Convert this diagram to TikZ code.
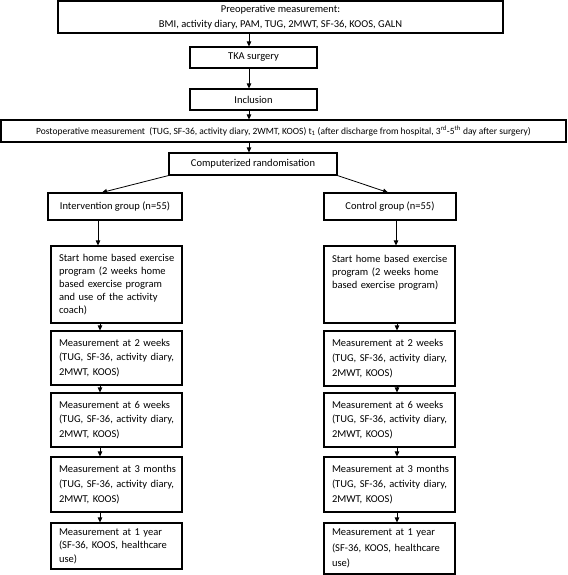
\documentclass[tikz,border=0pt]{standalone}
\usepackage{fontspec}
\setmainfont{Carlito}
\usetikzlibrary{arrows.meta}
\newcommand{\lineb}[1]{\mbox{#1}}
\hfuzz=20pt
\begin{document}
\begin{tikzpicture}[x=1pt,y=-1pt,
  box/.style={draw=black,line width=1.1pt,inner sep=0pt,font=\fontsize{10.5}{14.6}\selectfont,align=center},
  colbox/.style={draw=black,line width=1.1pt,inner xsep=8pt,inner ysep=0pt,font=\fontsize{10.5}{14.8}\selectfont,align=left,text width=115pt,minimum width=131pt},
  startbox/.style={colbox,font=\fontsize{10.5}{13}\selectfont},
  arr/.style={line width=0.8pt,-{Triangle[length=5pt,width=4.5pt]}}]
\useasboundingbox (0,0) rectangle (567,575);
\node[box,minimum width=445pt,minimum height=32pt] (pre) at (280.5,17) {Preoperative measurement:\\BMI, activity diary, PAM, TUG, 2MWT, SF-36, KOOS, GALN};
\node[box,minimum width=127pt,minimum height=21pt] (tka) at (253.5,57.5) {TKA surgery};
\node[box,minimum width=127pt,minimum height=21pt] (incl) at (253.5,99.5) {Inclusion};
\node[box,minimum width=565pt,minimum height=22pt,font=\fontsize{9.5}{12}\selectfont] (post) at (283.5,131) {Postoperative measurement\ \ (TUG, SF-36, activity diary, 2WMT, KOOS) t\textsubscript{1} (after discharge from hospital, 3\textsuperscript{rd}-5\textsuperscript{th} day after surgery)};
\node[box,minimum width=168pt,minimum height=22pt] (rand) at (253,164) {Computerized randomisation};
\node[box,minimum width=134pt,minimum height=27pt] (intv) at (115,206.5) {Intervention group (n=55)};
\node[box,minimum width=132pt,minimum height=27pt] (ctrl) at (390,206.5) {Control group (n=55)};
\node[startbox,minimum height=77pt] (sL) at (116.5,284.5) {\lineb{Start home based exercise}\\\lineb{program (2 weeks home}\\\lineb{based exercise program}\\\lineb{and use of the activity}\\\lineb{coach)}};
\node[startbox,minimum height=77pt] (sR) at (389.5,284.5) {\lineb{Start home based exercise}\\\lineb{program (2 weeks home}\\\lineb{based exercise program)}\\\mbox{}\\\mbox{}};
\node[colbox,minimum height=54pt] (m2L) at (116.5,358) {\lineb{Measurement at 2 weeks}\\\lineb{(TUG, SF-36, activity diary,}\\\lineb{2MWT, KOOS)}};
\node[colbox,minimum height=55pt] (m2R) at (389.5,358.5) {\lineb{Measurement at 2 weeks}\\\lineb{(TUG, SF-36, activity diary,}\\\lineb{2MWT, KOOS)}};
\node[colbox,minimum height=54pt] (m6L) at (116.5,420) {\lineb{Measurement at 6 weeks}\\\lineb{(TUG, SF-36, activity diary,}\\\lineb{2MWT, KOOS)}};
\node[colbox,minimum height=54pt] (m6R) at (389.5,420) {\lineb{Measurement at 6 weeks}\\\lineb{(TUG, SF-36, activity diary,}\\\lineb{2MWT, KOOS)}};
\node[colbox,minimum height=55pt] (m3L) at (116.5,484.5) {\lineb{Measurement at 3 months}\\\lineb{(TUG, SF-36, activity diary,}\\\lineb{2MWT, KOOS)}};
\node[colbox,minimum height=55pt] (m3R) at (389.5,484.5) {\lineb{Measurement at 3 months}\\\lineb{(TUG, SF-36, activity diary,}\\\lineb{2MWT, KOOS)}};
\node[colbox,minimum height=46pt,font=\fontsize{10.5}{13.5}\selectfont] (yL) at (116.5,546) {\lineb{Measurement at 1 year}\\\lineb{(SF-36, KOOS, healthcare}\\\lineb{use)}};
\node[colbox,minimum height=51pt,font=\fontsize{10.5}{15.2}\selectfont] (yR) at (389.5,548.5) {\lineb{Measurement at 1 year}\\\lineb{(SF-36, KOOS, healthcare}\\\lineb{use)}};
% connectors
\draw[arr] ([xshift=-4.5pt]tka.north |- pre.south) -- ([xshift=-4.5pt]tka.north);
\draw[arr] ([xshift=-4.5pt]tka.south) -- ([xshift=-4.5pt]incl.north);
\draw[arr] ([xshift=-4.5pt]incl.south) -- ([xshift=-4.5pt]incl.south |- post.north);
\draw[arr] ([xshift=-4pt]rand.north |- post.south) -- ([xshift=-4pt]rand.north);
\draw[arr] (rand.south west) -- ([xshift=-13pt]intv.north);
\draw[arr] (rand.south east) -- ([xshift=-2pt]ctrl.north);
\draw[arr] ([xshift=-17pt]intv.south) -- ([xshift=-17pt]intv.south |- sL.north);
\draw[arr] ([xshift=6pt]ctrl.south) -- ([xshift=6pt]ctrl.south |- sR.north);
\foreach \a/\b in {sL/m2L,m2L/m6L,m6L/m3L,m3L/yL}{
  \draw[arr] ([xshift=-16.5pt]\a.south) -- ([xshift=-16.5pt]\b.north);
}
\foreach \a/\b in {sR/m2R,m2R/m6R,m6R/m3R,m3R/yR}{
  \draw[arr] ([xshift=7.5pt]\a.south) -- ([xshift=7.5pt]\b.north);
}
\end{tikzpicture}
\end{document}
